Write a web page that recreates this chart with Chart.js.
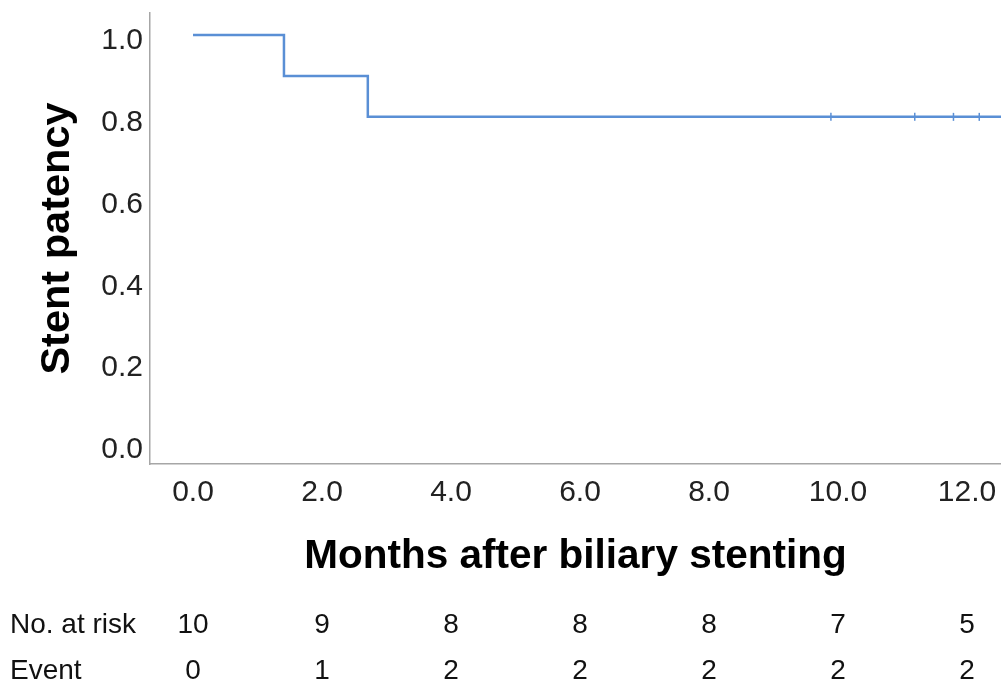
<!DOCTYPE html>
<html lang="en">
<head>
  <meta charset="UTF-8" />
  <title>Stent patency</title>
  <script src="https://cdn.jsdelivr.net/npm/chart.js"></script>
  <style>
    html, body { margin: 0; padding: 0; background: #fff; overflow: hidden; }
    #wrap { width: 1001px; height: 684px; position: relative; }
    canvas { display: block; }
  </style>
</head>
<body>
<div id="wrap"><canvas id="km"></canvas></div>

<script>
// Kaplan-Meier steps (months, patency)
const kmTimes = [0, 1.41, 2.71, 12.6];
const kmSurv = [1.0, 0.9, 0.8, 0.8];
// censored observations
const censorTimes = [9.89, 11.19, 11.79, 12.19];
const censorSurv = [0.8, 0.8, 0.8, 0.8];

const xTicks = [0, 2, 4, 6, 8, 10, 12];
const yTicks = [0, 0.2, 0.4, 0.6, 0.8, 1.0];

const riskTimes = [0, 2, 4, 6, 8, 10, 12];
const atRisk = [10, 9, 8, 8, 8, 7, 5];
const events = [0, 1, 2, 2, 2, 2, 2];

const FONT = "'Liberation Sans', Arial, sans-serif";

const riskTable = {
  id: "riskTable",
  afterDraw(chart) {
    const ctx = chart.ctx, xs = chart.scales.x;
    ctx.save();
    ctx.font = "28px " + FONT;
    ctx.fillStyle = "#111";
    ctx.textBaseline = "middle";
    ctx.textAlign = "left";
    ctx.fillText("No. at risk", 10, 625);
    ctx.fillText("Event", 10, 671);
    ctx.textAlign = "center";
    riskTimes.forEach((t, i) => {
      const px = xs.getPixelForValue(t);
      ctx.fillText(String(atRisk[i]), px, 625);
      ctx.fillText(String(events[i]), px, 671);
    });
    ctx.restore();
  }
};

function noPad(s) { s.paddingTop = 0; s.paddingBottom = 0; s.paddingLeft = 0; s.paddingRight = 0; }

new Chart(document.getElementById("km"), {
  type: "scatter",
  data: {
    datasets: [
      {
        label: "KM",
        data: kmTimes.map((t, i) => ({ x: t, y: kmSurv[i] })),
        showLine: true,
        stepped: "before",
        borderColor: "#5a8fd5",
        borderWidth: 2.5,
        pointRadius: 0,
        fill: false
      },
      {
        label: "Censored",
        data: censorTimes.map((t, i) => ({ x: t, y: censorSurv[i] })),
        showLine: false,
        pointStyle: "line",
        rotation: 90,
        pointRadius: 4,
        borderColor: "#5a8fd5",
        borderWidth: 1.5
      }
    ]
  },
  options: {
    responsive: true,
    maintainAspectRatio: false,
    animation: false,
    layout: { autoPadding: false, padding: { top: 13, left: 0, right: 0, bottom: 0 } },
    plugins: { legend: { display: false }, tooltip: { enabled: false } },
    scales: {
      x: {
        type: "linear",
        min: -0.667,
        max: 12.527,
        grid: { display: false, drawTicks: false },
        border: { display: true, color: "#a6a6a6", width: 1.5 },
        afterBuildTicks: s => { s.ticks = xTicks.map(v => ({ value: v })); },
        afterFit: s => { s.height = 220; noPad(s); },
        ticks: {
          autoSkip: false,
          maxRotation: 0,
          padding: 11,
          color: "#222",
          font: { family: FONT, size: 30 },
          callback: v => v.toFixed(1)
        },
        title: {
          display: true,
          text: "Months after biliary stenting",
          color: "#000",
          font: { family: FONT, size: 40.5, weight: "bold" },
          padding: { top: 0, bottom: 103 }
        }
      },
      y: {
        min: -0.049,
        max: 1.054,
        grid: { display: false, drawTicks: false },
        border: { display: true, color: "#a6a6a6", width: 1.5 },
        afterBuildTicks: s => { s.ticks = yTicks.map(v => ({ value: v })); },
        afterFit: s => { s.width = 150; noPad(s); },
        ticks: {
          autoSkip: false,
          padding: 7,
          labelOffset: 6,
          color: "#222",
          font: { family: FONT, size: 30 },
          callback: v => v.toFixed(1)
        },
        title: {
          display: true,
          text: "Stent patency",
          color: "#000",
          font: { family: FONT, size: 41.5, weight: "bold" },
          padding: { top: 33, bottom: 0 }
        }
      }
    }
  },
  plugins: [riskTable]
});
</script>
</body>
</html>
